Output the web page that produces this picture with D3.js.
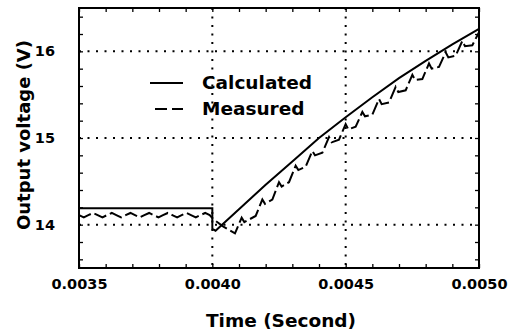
<!DOCTYPE html>
<html>
<head>
<meta charset="utf-8">
<script src="https://cdn.jsdelivr.net/npm/d3@7"></script>
<style>
  body { margin: 0; background: #fff; }
  svg text { font-family: "DejaVu Sans", sans-serif; font-weight: bold; fill: #000; }
</style>
</head>
<body>
<svg id="chart" width="511" height="336"></svg>
<script>
// tick labels
var xTicks = [0.0035, 0.0040, 0.0045, 0.0050];
var xTickLabels = ["0.0035", "0.0040", "0.0045", "0.0050"];
var yTicks = [14, 15, 16];
var yTickLabels = ["14", "15", "16"];
var gridX = [0.0040, 0.0045];
var gridY = [14, 15, 16];

// calculated output voltage (V) vs time (s)
var calcTime = [0.0035, 0.0040, 0.0040, 0.004012, 0.0042, 0.0043, 0.0044, 0.0045, 0.0046, 0.0047, 0.0048, 0.0049, 0.0050];
var calcVolt = [14.19, 14.19, 13.95, 13.93, 14.46, 14.73, 15.0, 15.24, 15.47, 15.69, 15.89, 16.08, 16.26];

// measured output voltage (V) vs time (s) - ripple
var measTime = [
  0.003500, 0.003518, 0.003535, 0.003553, 0.003570, 0.003588, 0.003605, 0.003623, 0.003640, 0.003658,
  0.003675, 0.003693, 0.003710, 0.003728, 0.003745, 0.003763, 0.003780, 0.003798, 0.003815, 0.003833,
  0.003850, 0.003868, 0.003885, 0.003903, 0.003920, 0.003938, 0.003955, 0.003973, 0.003990,
  0.004005, 0.004040, 0.004085,
  0.004110, 0.004120,
  0.0041625, 0.0041875, 0.0041975,
  0.004225, 0.004250, 0.004260,
  0.0042875, 0.0043125, 0.0043225,
  0.004350, 0.004375, 0.004385,
  0.0044125, 0.0044375, 0.0044475,
  0.004475, 0.004500, 0.004510,
  0.0045375, 0.0045625, 0.0045725,
  0.004600, 0.004625, 0.004635,
  0.0046625, 0.0046875, 0.0046975,
  0.004725, 0.004750, 0.004760,
  0.0047875, 0.0048125, 0.0048225,
  0.004850, 0.004875, 0.004885,
  0.0049125, 0.0049375, 0.0049475,
  0.004975, 0.005000
];
var measVolt = [
  14.11, 14.085, 14.11, 14.135, 14.11, 14.085, 14.11, 14.135, 14.11, 14.085,
  14.11, 14.135, 14.11, 14.085, 14.11, 14.135, 14.11, 14.085, 14.11, 14.135,
  14.11, 14.085, 14.11, 14.135, 14.11, 14.085, 14.11, 14.135, 14.11,
  14.06, 13.98, 13.90,
  14.08, 14.03,
  14.10, 14.29, 14.24,
  14.29, 14.49, 14.44,
  14.49, 14.68, 14.63,
  14.67, 14.85, 14.80,
  14.83, 15.01, 14.95,
  14.98, 15.16, 15.10,
  15.13, 15.30, 15.25,
  15.27, 15.45, 15.39,
  15.41, 15.59, 15.53,
  15.55, 15.73, 15.67,
  15.68, 15.86, 15.80,
  15.82, 15.99, 15.93,
  15.95, 16.12, 16.06,
  16.07, 16.22
];

var seriesNames = ["Calculated", "Measured"];

var svg = d3.select("#chart");
var plotLeft = 79, plotRight = 479, plotTop = 8, plotBottom = 268;

var x = d3.scaleLinear().domain([0.0035, 0.0050]).range([plotLeft, plotRight]);
var y = d3.scaleLinear().domain([13.5, 16.5]).range([plotBottom, plotTop]);

// dotted grid
svg.selectAll("line.gx").data(gridX).enter().append("line")
  .attr("x1", function(d){ return x(d) }).attr("x2", function(d){ return x(d) })
  .attr("y1", plotTop).attr("y2", plotBottom)
  .attr("stroke", "#000").attr("stroke-width", 2).attr("stroke-dasharray", "2,6.5");
svg.selectAll("line.gy").data(gridY).enter().append("line")
  .attr("x1", plotLeft).attr("x2", plotRight)
  .attr("y1", function(d){ return y(d) }).attr("y2", function(d){ return y(d) })
  .attr("stroke", "#000").attr("stroke-width", 2).attr("stroke-dasharray", "2,6.5");

// minor ticks, pointing inward on every side
function tickStyle(g) {
  g.select(".domain").remove();
  g.selectAll("line").attr("stroke", "#000").attr("stroke-width", 1.3);
  g.selectAll("text").remove();
}
svg.append("g").attr("transform", "translate(0," + plotBottom + ")")
  .call(d3.axisBottom(x).ticks(15).tickSize(-4)).call(tickStyle);
svg.append("g").attr("transform", "translate(0," + plotTop + ")")
  .call(d3.axisTop(x).ticks(15).tickSize(-4)).call(tickStyle);
svg.append("g").attr("transform", "translate(" + plotLeft + ",0)")
  .call(d3.axisLeft(y).ticks(15).tickSize(-4)).call(tickStyle);
svg.append("g").attr("transform", "translate(" + plotRight + ",0)")
  .call(d3.axisRight(y).ticks(15).tickSize(-4)).call(tickStyle);

// tick labels
var xAxis = svg.append("g").attr("transform", "translate(0," + plotBottom + ")")
  .call(d3.axisBottom(x).tickValues(xTicks).tickSize(0).tickPadding(11)
    .tickFormat(function(d, i){ return xTickLabels[i] }));
xAxis.select(".domain").remove();
xAxis.selectAll("text").attr("font-size", "14.5px").attr("font-family", null);

var yAxis = svg.append("g").attr("transform", "translate(" + plotLeft + ",0)")
  .call(d3.axisLeft(y).tickValues(yTicks).tickSize(0).tickPadding(24)
    .tickFormat(function(d, i){ return yTickLabels[i] }));
yAxis.select(".domain").remove();
yAxis.selectAll("text").attr("font-size", "14.5px").attr("font-family", null);

// curves
var line = d3.line()
  .x(function(d){ return x(d[0]) })
  .y(function(d){ return y(d[1]) });

svg.append("path")
  .datum(d3.zip(calcTime, calcVolt))
  .attr("d", line)
  .attr("fill", "none").attr("stroke", "#000").attr("stroke-width", 2);

svg.append("path")
  .datum(d3.zip(measTime, measVolt))
  .attr("d", line)
  .attr("fill", "none").attr("stroke", "#000").attr("stroke-width", 2)
  .attr("stroke-dasharray", "13,4");

// frame
svg.append("rect")
  .attr("x", plotLeft).attr("y", plotTop)
  .attr("width", plotRight - plotLeft).attr("height", plotBottom - plotTop)
  .attr("fill", "none").attr("stroke", "#000").attr("stroke-width", 2);

// legend
svg.append("line").attr("x1", 150).attr("x2", 183).attr("y1", 83).attr("y2", 83)
  .attr("stroke", "#000").attr("stroke-width", 2);
svg.append("line").attr("x1", 155).attr("x2", 183).attr("y1", 109).attr("y2", 109)
  .attr("stroke", "#000").attr("stroke-width", 2).attr("stroke-dasharray", "12,5");
svg.selectAll("text.leg").data(seriesNames).enter().append("text")
  .attr("class", "leg")
  .attr("x", 202)
  .attr("y", function(d, i){ return 89 + i * 26 })
  .attr("font-size", "18.5px")
  .text(function(d){ return d });

// axis titles
svg.append("text")
  .attr("x", 281).attr("y", 327)
  .attr("text-anchor", "middle").attr("font-size", "18.5px")
  .text("Time (Second)");
svg.append("text")
  .attr("transform", "translate(30,135) rotate(-90)")
  .attr("text-anchor", "middle").attr("font-size", "18px")
  .text("Output voltage (V)");
</script>
</body>
</html>
